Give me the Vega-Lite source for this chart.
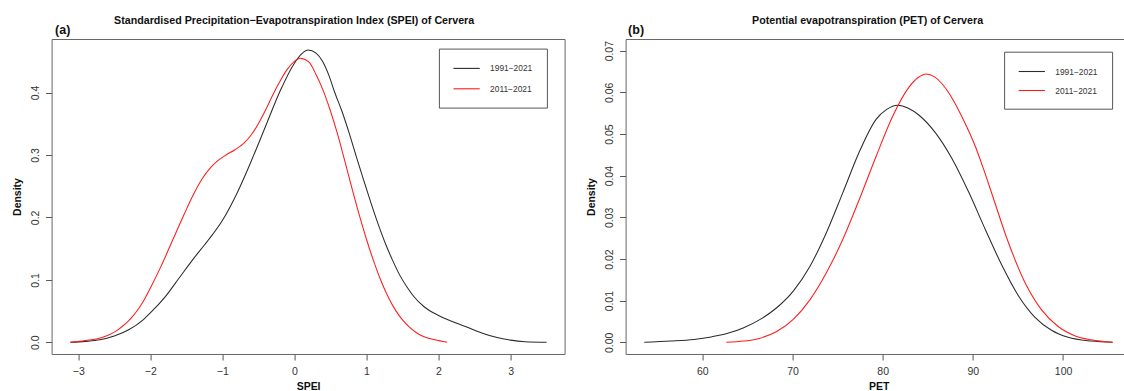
{
  "$schema": "https://vega.github.io/schema/vega-lite/v6.json",
  "padding": {"left": 11.6, "top": 14, "right": 0, "bottom": 0},
  "spacing": 20,
  "background": "white",
  "config": {
    "font": "Liberation Sans",
    "view": {"stroke": "#666", "strokeWidth": 1},
    "axis": {"domain": false, "grid": false, "tickColor": "#555", "tickSize": 6, "labelFont": "Liberation Sans", "labelFontSize": 10.5, "labelColor": "#333", "titleFont": "Liberation Sans", "titleFontSize": 10.5, "titleFontWeight": "bold", "titleColor": "#111"},
    "axisBottom": {"labelBaseline": "alphabetic", "labelPadding": 14.5, "titleBaseline": "alphabetic", "titleY": 35.5},
    "axisLeft": {"labelAngle": -90, "labelAlign": "center", "labelBaseline": "alphabetic", "labelPadding": 7, "titleAngle": -90, "titleBaseline": "alphabetic", "titleAlign": "center", "titleX": -30.6, "titleY": 157.5},
    "title": {"font": "Liberation Sans", "fontSize": 10.7, "fontWeight": "bold", "color": "#111", "anchor": "middle", "frame": "group", "baseline": "alphabetic", "offset": -4}
  },
  "resolve": {"scale": {"color": "independent"}, "legend": {"color": "independent"}},
  "datasets": {
    "spei": [
      {"spei": -3.11, "density": 0.0, "period": "1991−2021"},
      {"spei": -2.9, "density": 0.0015, "period": "1991−2021"},
      {"spei": -2.7, "density": 0.004, "period": "1991−2021"},
      {"spei": -2.5, "density": 0.01, "period": "1991−2021"},
      {"spei": -2.3, "density": 0.02, "period": "1991−2021"},
      {"spei": -2.1, "density": 0.036, "period": "1991−2021"},
      {"spei": -2.0, "density": 0.047, "period": "1991−2021"},
      {"spei": -1.8, "density": 0.072, "period": "1991−2021"},
      {"spei": -1.6, "density": 0.103, "period": "1991−2021"},
      {"spei": -1.4, "density": 0.134, "period": "1991−2021"},
      {"spei": -1.2, "density": 0.163, "period": "1991−2021"},
      {"spei": -1.0, "density": 0.195, "period": "1991−2021"},
      {"spei": -0.8, "density": 0.238, "period": "1991−2021"},
      {"spei": -0.6, "density": 0.29, "period": "1991−2021"},
      {"spei": -0.4, "density": 0.346, "period": "1991−2021"},
      {"spei": -0.2, "density": 0.402, "period": "1991−2021"},
      {"spei": 0.0, "density": 0.447, "period": "1991−2021"},
      {"spei": 0.1, "density": 0.462, "period": "1991−2021"},
      {"spei": 0.19, "density": 0.468, "period": "1991−2021"},
      {"spei": 0.3, "density": 0.463, "period": "1991−2021"},
      {"spei": 0.39, "density": 0.45, "period": "1991−2021"},
      {"spei": 0.48, "density": 0.427, "period": "1991−2021"},
      {"spei": 0.56, "density": 0.4, "period": "1991−2021"},
      {"spei": 0.66, "density": 0.37, "period": "1991−2021"},
      {"spei": 0.76, "density": 0.335, "period": "1991−2021"},
      {"spei": 0.86, "density": 0.297, "period": "1991−2021"},
      {"spei": 0.96, "density": 0.26, "period": "1991−2021"},
      {"spei": 1.06, "density": 0.224, "period": "1991−2021"},
      {"spei": 1.16, "density": 0.19, "period": "1991−2021"},
      {"spei": 1.26, "density": 0.159, "period": "1991−2021"},
      {"spei": 1.36, "density": 0.132, "period": "1991−2021"},
      {"spei": 1.46, "density": 0.108, "period": "1991−2021"},
      {"spei": 1.56, "density": 0.089, "period": "1991−2021"},
      {"spei": 1.66, "density": 0.073, "period": "1991−2021"},
      {"spei": 1.8, "density": 0.057, "period": "1991−2021"},
      {"spei": 2.0, "density": 0.043, "period": "1991−2021"},
      {"spei": 2.2, "density": 0.033, "period": "1991−2021"},
      {"spei": 2.4, "density": 0.024, "period": "1991−2021"},
      {"spei": 2.6, "density": 0.015, "period": "1991−2021"},
      {"spei": 2.8, "density": 0.008, "period": "1991−2021"},
      {"spei": 3.0, "density": 0.0035, "period": "1991−2021"},
      {"spei": 3.2, "density": 0.001, "period": "1991−2021"},
      {"spei": 3.5, "density": 0.0, "period": "1991−2021"},
      {"spei": -3.11, "density": 0.0, "period": "2011−2021"},
      {"spei": -2.9, "density": 0.003, "period": "2011−2021"},
      {"spei": -2.68, "density": 0.0075, "period": "2011−2021"},
      {"spei": -2.45, "density": 0.02, "period": "2011−2021"},
      {"spei": -2.22, "density": 0.045, "period": "2011−2021"},
      {"spei": -2.1, "density": 0.065, "period": "2011−2021"},
      {"spei": -1.99, "density": 0.089, "period": "2011−2021"},
      {"spei": -1.85, "density": 0.122, "period": "2011−2021"},
      {"spei": -1.7, "density": 0.161, "period": "2011−2021"},
      {"spei": -1.53, "density": 0.205, "period": "2011−2021"},
      {"spei": -1.4, "density": 0.237, "period": "2011−2021"},
      {"spei": -1.28, "density": 0.262, "period": "2011−2021"},
      {"spei": -1.16, "density": 0.28, "period": "2011−2021"},
      {"spei": -1.05, "density": 0.292, "period": "2011−2021"},
      {"spei": -0.95, "density": 0.3, "period": "2011−2021"},
      {"spei": -0.83, "density": 0.308, "period": "2011−2021"},
      {"spei": -0.7, "density": 0.319, "period": "2011−2021"},
      {"spei": -0.6, "density": 0.332, "period": "2011−2021"},
      {"spei": -0.5, "density": 0.35, "period": "2011−2021"},
      {"spei": -0.4, "density": 0.372, "period": "2011−2021"},
      {"spei": -0.3, "density": 0.396, "period": "2011−2021"},
      {"spei": -0.2, "density": 0.418, "period": "2011−2021"},
      {"spei": -0.1, "density": 0.437, "period": "2011−2021"},
      {"spei": 0.0, "density": 0.45, "period": "2011−2021"},
      {"spei": 0.08, "density": 0.455, "period": "2011−2021"},
      {"spei": 0.2, "density": 0.449, "period": "2011−2021"},
      {"spei": 0.3, "density": 0.429, "period": "2011−2021"},
      {"spei": 0.4, "density": 0.403, "period": "2011−2021"},
      {"spei": 0.49, "density": 0.374, "period": "2011−2021"},
      {"spei": 0.6, "density": 0.333, "period": "2011−2021"},
      {"spei": 0.7, "density": 0.29, "period": "2011−2021"},
      {"spei": 0.8, "density": 0.246, "period": "2011−2021"},
      {"spei": 0.9, "density": 0.204, "period": "2011−2021"},
      {"spei": 1.0, "density": 0.165, "period": "2011−2021"},
      {"spei": 1.1, "density": 0.13, "period": "2011−2021"},
      {"spei": 1.2, "density": 0.099, "period": "2011−2021"},
      {"spei": 1.3, "density": 0.073, "period": "2011−2021"},
      {"spei": 1.4, "density": 0.052, "period": "2011−2021"},
      {"spei": 1.5, "density": 0.036, "period": "2011−2021"},
      {"spei": 1.6, "density": 0.024, "period": "2011−2021"},
      {"spei": 1.7, "density": 0.015, "period": "2011−2021"},
      {"spei": 1.8, "density": 0.009, "period": "2011−2021"},
      {"spei": 1.95, "density": 0.004, "period": "2011−2021"},
      {"spei": 2.12, "density": 0.0, "period": "2011−2021"}
    ],
    "pet": [
      {"pet": 53.57, "density": 0.0, "period": "1991−2021"},
      {"pet": 56.5, "density": 0.0003, "period": "1991−2021"},
      {"pet": 59.08, "density": 0.0007, "period": "1991−2021"},
      {"pet": 61.0, "density": 0.0013, "period": "1991−2021"},
      {"pet": 62.75, "density": 0.0021, "period": "1991−2021"},
      {"pet": 64.6, "density": 0.0035, "period": "1991−2021"},
      {"pet": 66.42, "density": 0.0055, "period": "1991−2021"},
      {"pet": 68.25, "density": 0.0083, "period": "1991−2021"},
      {"pet": 70.09, "density": 0.0123, "period": "1991−2021"},
      {"pet": 71.93, "density": 0.0182, "period": "1991−2021"},
      {"pet": 73.76, "density": 0.0263, "period": "1991−2021"},
      {"pet": 75.6, "density": 0.036, "period": "1991−2021"},
      {"pet": 77.43, "density": 0.0458, "period": "1991−2021"},
      {"pet": 79.27, "density": 0.0535, "period": "1991−2021"},
      {"pet": 80.45, "density": 0.0559, "period": "1991−2021"},
      {"pet": 81.65, "density": 0.0569, "period": "1991−2021"},
      {"pet": 82.85, "density": 0.0562, "period": "1991−2021"},
      {"pet": 84.04, "density": 0.0545, "period": "1991−2021"},
      {"pet": 85.88, "density": 0.0502, "period": "1991−2021"},
      {"pet": 87.71, "density": 0.044, "period": "1991−2021"},
      {"pet": 89.55, "density": 0.036, "period": "1991−2021"},
      {"pet": 91.38, "density": 0.0271, "period": "1991−2021"},
      {"pet": 93.22, "density": 0.0185, "period": "1991−2021"},
      {"pet": 95.05, "density": 0.0112, "period": "1991−2021"},
      {"pet": 96.89, "density": 0.006, "period": "1991−2021"},
      {"pet": 98.72, "density": 0.0029, "period": "1991−2021"},
      {"pet": 100.56, "density": 0.0012, "period": "1991−2021"},
      {"pet": 103.13, "density": 0.0003, "period": "1991−2021"},
      {"pet": 105.5, "density": 0.0, "period": "1991−2021"},
      {"pet": 62.67, "density": 0.0, "period": "2011−2021"},
      {"pet": 64.6, "density": 0.0003, "period": "2011−2021"},
      {"pet": 66.42, "density": 0.001, "period": "2011−2021"},
      {"pet": 68.25, "density": 0.0026, "period": "2011−2021"},
      {"pet": 70.09, "density": 0.0055, "period": "2011−2021"},
      {"pet": 71.93, "density": 0.0102, "period": "2011−2021"},
      {"pet": 73.76, "density": 0.0167, "period": "2011−2021"},
      {"pet": 75.6, "density": 0.0248, "period": "2011−2021"},
      {"pet": 77.43, "density": 0.0344, "period": "2011−2021"},
      {"pet": 79.27, "density": 0.0446, "period": "2011−2021"},
      {"pet": 81.1, "density": 0.0542, "period": "2011−2021"},
      {"pet": 82.94, "density": 0.0613, "period": "2011−2021"},
      {"pet": 83.9, "density": 0.0635, "period": "2011−2021"},
      {"pet": 84.85, "density": 0.0644, "period": "2011−2021"},
      {"pet": 85.75, "density": 0.0637, "period": "2011−2021"},
      {"pet": 86.61, "density": 0.062, "period": "2011−2021"},
      {"pet": 87.5, "density": 0.0593, "period": "2011−2021"},
      {"pet": 88.45, "density": 0.0556, "period": "2011−2021"},
      {"pet": 89.4, "density": 0.0514, "period": "2011−2021"},
      {"pet": 90.28, "density": 0.047, "period": "2011−2021"},
      {"pet": 91.2, "density": 0.0415, "period": "2011−2021"},
      {"pet": 92.12, "density": 0.0356, "period": "2011−2021"},
      {"pet": 93.95, "density": 0.0239, "period": "2011−2021"},
      {"pet": 95.79, "density": 0.0143, "period": "2011−2021"},
      {"pet": 97.62, "density": 0.0078, "period": "2011−2021"},
      {"pet": 99.46, "density": 0.0038, "period": "2011−2021"},
      {"pet": 101.29, "density": 0.0016, "period": "2011−2021"},
      {"pet": 103.13, "density": 0.0006, "period": "2011−2021"},
      {"pet": 105.5, "density": 0.0, "period": "2011−2021"}
    ]
  },
  "hconcat": [
    {
      "width": 513,
      "height": 315,
      "title": {"text": "Standardised Precipitation−Evapotranspiration Index (SPEI) of Cervera", "dx": -14},
      "resolve": {"axis": {"x": "independent"}},
      "layer": [
        {
          "mark": {"type": "rule", "color": "#e2e2e2", "strokeWidth": 1},
          "encoding": {
            "x": {"datum": -3.37, "type": "quantitative", "scale": {"domain": [-3.37, 3.75], "nice": false, "zero": false},
                  "axis": {"orient": "top", "title": "(a)", "labels": false, "ticks": false, "domain": false, "titleX": 3, "titleY": -6, "titleAlign": "left", "titleAnchor": "start", "titleBaseline": "alphabetic", "titleFontSize": 12.5, "titleFontWeight": "bold", "titleAngle": 0, "titleColor": "#111"}},
            "x2": {"datum": 3.75},
            "y": {"datum": 0, "type": "quantitative", "scale": {"domain": [-0.0187, 0.4857], "nice": false, "zero": false},
                  "axis": {"title": "Density", "values": [0, 0.1, 0.2, 0.3, 0.4], "format": ".1f"}}
          }
        },
        {
          "data": {"name": "spei"},
          "mark": {"type": "line", "interpolate": "monotone", "strokeWidth": 1.05},
          "encoding": {
            "x": {"field": "spei", "type": "quantitative", "scale": {"domain": [-3.37, 3.75], "nice": false, "zero": false},
                  "axis": {"orient": "bottom", "title": "SPEI", "values": [-3, -2, -1, 0, 1, 2, 3], "format": "d"}},
            "y": {"field": "density", "type": "quantitative", "scale": {"domain": [-0.0187, 0.4857], "nice": false, "zero": false},
                  "axis": {"title": "Density", "values": [0, 0.1, 0.2, 0.3, 0.4], "format": ".1f"}},
            "color": {"field": "period", "type": "nominal",
                      "scale": {"domain": ["1991−2021", "2011−2021"], "range": ["#2b2b2b", "#ff1a1a"]},
                      "legend": {"orient": "none", "legendX": 387.3, "legendY": 9.6, "title": null, "strokeColor": "#555", "fillColor": "white", "padding": 13.8, "symbolType": "M-2.5,0H2.5", "symbolSize": 110, "symbolStrokeWidth": 1.1, "symbolOffset": 7.9, "labelOffset": 17.5, "labelFont": "Liberation Sans", "labelFontSize": 8.4, "labelColor": "#333", "rowPadding": 9.4}}
          }
        }
      ]
    },
    {
      "width": 506,
      "height": 315,
      "title": {"text": "Potential evapotranspiration (PET) of Cervera", "dx": -11},
      "resolve": {"axis": {"x": "independent"}},
      "layer": [
        {
          "mark": {"type": "rule", "color": "#e2e2e2", "strokeWidth": 1},
          "encoding": {
            "x": {"datum": 51.5, "type": "quantitative", "scale": {"domain": [51.5, 107.6], "nice": false, "zero": false},
                  "axis": {"orient": "top", "title": "(b)", "labels": false, "ticks": false, "domain": false, "titleX": 2, "titleY": -6, "titleAlign": "left", "titleAnchor": "start", "titleBaseline": "alphabetic", "titleFontSize": 12.5, "titleFontWeight": "bold", "titleAngle": 0, "titleColor": "#111"}},
            "x2": {"datum": 107.6},
            "y": {"datum": 0, "type": "quantitative", "scale": {"domain": [-0.0028, 0.0728], "nice": false, "zero": false},
                  "axis": {"title": "Density", "values": [0, 0.01, 0.02, 0.03, 0.04, 0.05, 0.06, 0.07], "format": ".2f"}}
          }
        },
        {
          "data": {"name": "pet"},
          "mark": {"type": "line", "interpolate": "monotone", "strokeWidth": 1.05},
          "encoding": {
            "x": {"field": "pet", "type": "quantitative", "scale": {"domain": [51.5, 107.6], "nice": false, "zero": false},
                  "axis": {"orient": "bottom", "title": "PET", "values": [60, 70, 80, 90, 100], "format": "d"}},
            "y": {"field": "density", "type": "quantitative", "scale": {"domain": [-0.0028, 0.0728], "nice": false, "zero": false},
                  "axis": {"title": "Density", "values": [0, 0.01, 0.02, 0.03, 0.04, 0.05, 0.06, 0.07], "format": ".2f"}},
            "color": {"field": "period", "type": "nominal",
                      "scale": {"domain": ["1991−2021", "2011−2021"], "range": ["#2b2b2b", "#ff1a1a"]},
                      "legend": {"orient": "none", "legendX": 378.5, "legendY": 12.7, "title": null, "strokeColor": "#555", "fillColor": "white", "padding": 13.8, "symbolType": "M-2.5,0H2.5", "symbolSize": 110, "symbolStrokeWidth": 1.1, "symbolOffset": 7.9, "labelOffset": 17.5, "labelFont": "Liberation Sans", "labelFontSize": 8.4, "labelColor": "#333", "rowPadding": 8}}
          }
        }
      ]
    }
  ]
}
